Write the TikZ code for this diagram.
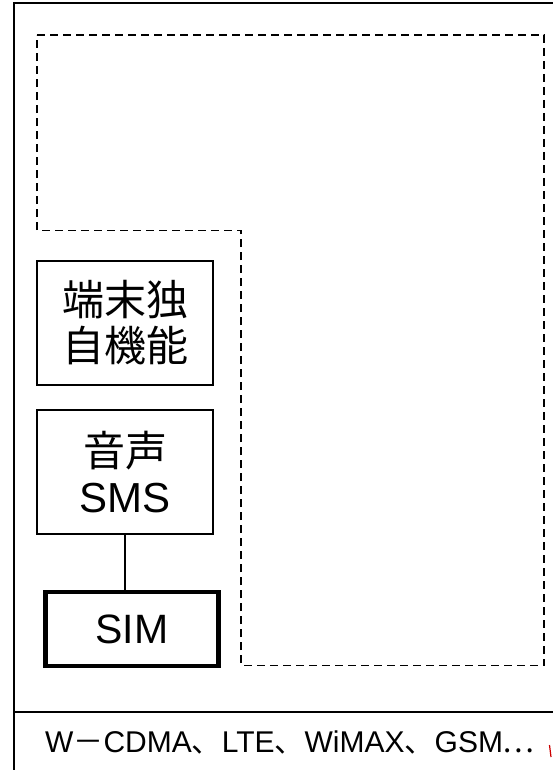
\documentclass[tikz,border=0pt]{standalone}
\usepackage{fontspec}
\setmainfont{Liberation Sans}
\newfontfamily\jp{Noto Sans CJK JP}
\begin{document}
\begin{tikzpicture}[x=1pt,y=-1pt,
  plainbox/.style={draw,line width=1.6pt,minimum width=176pt,inner sep=0pt,align=center,font=\fontsize{42}{48}\selectfont},
  simbox/.style={draw,line width=4.5pt,minimum width=173pt,minimum height=74pt,inner sep=0pt,font=\fontsize{41}{48}\selectfont},
  dashline/.style={line width=1.5pt,dash pattern=on 8pt off 5pt},
  frame/.style={line width=2pt}]
\useasboundingbox (0,0) rectangle (553,770);
\clip (0,0) rectangle (553,770);
\fill[white] (0,0) rectangle (553,770);
% outer frame
\draw[frame] (600,3) -- (13.5,3) -- (13.5,800);
\draw[frame] (13.5,711.5) -- (600,711.5);
% dashed L-shaped region
\draw[dashline] (37,35) -- (544,35) -- (544,665.5) -- (241,665.5) -- (241,230.5) -- (37,230.5) -- cycle;
% boxes
\node[plainbox,minimum height=124pt] (own) at (125,323) {{\jp 端末独}\\[-2pt]{\jp 自機能}};
\node[plainbox,minimum height=124pt] (voice) at (125,472) {{\jp 音声}\\[-2pt]SMS};
\node[simbox] (sim) at (132,629) {SIM};
\draw[line width=1.6pt] (voice.south) -- (voice.south |- sim.north);
% bottom text
\node[font=\fontsize{30}{34}\selectfont,inner sep=0pt] (nets) at (290,742) {W{\jp －}CDMA{\jp 、}LTE{\jp 、}WiMAX{\jp 、}GSM{\jp …}};
\draw[red!80!black,line width=1.2pt] (549.5,745) -- (551,757);
\end{tikzpicture}
\end{document}
